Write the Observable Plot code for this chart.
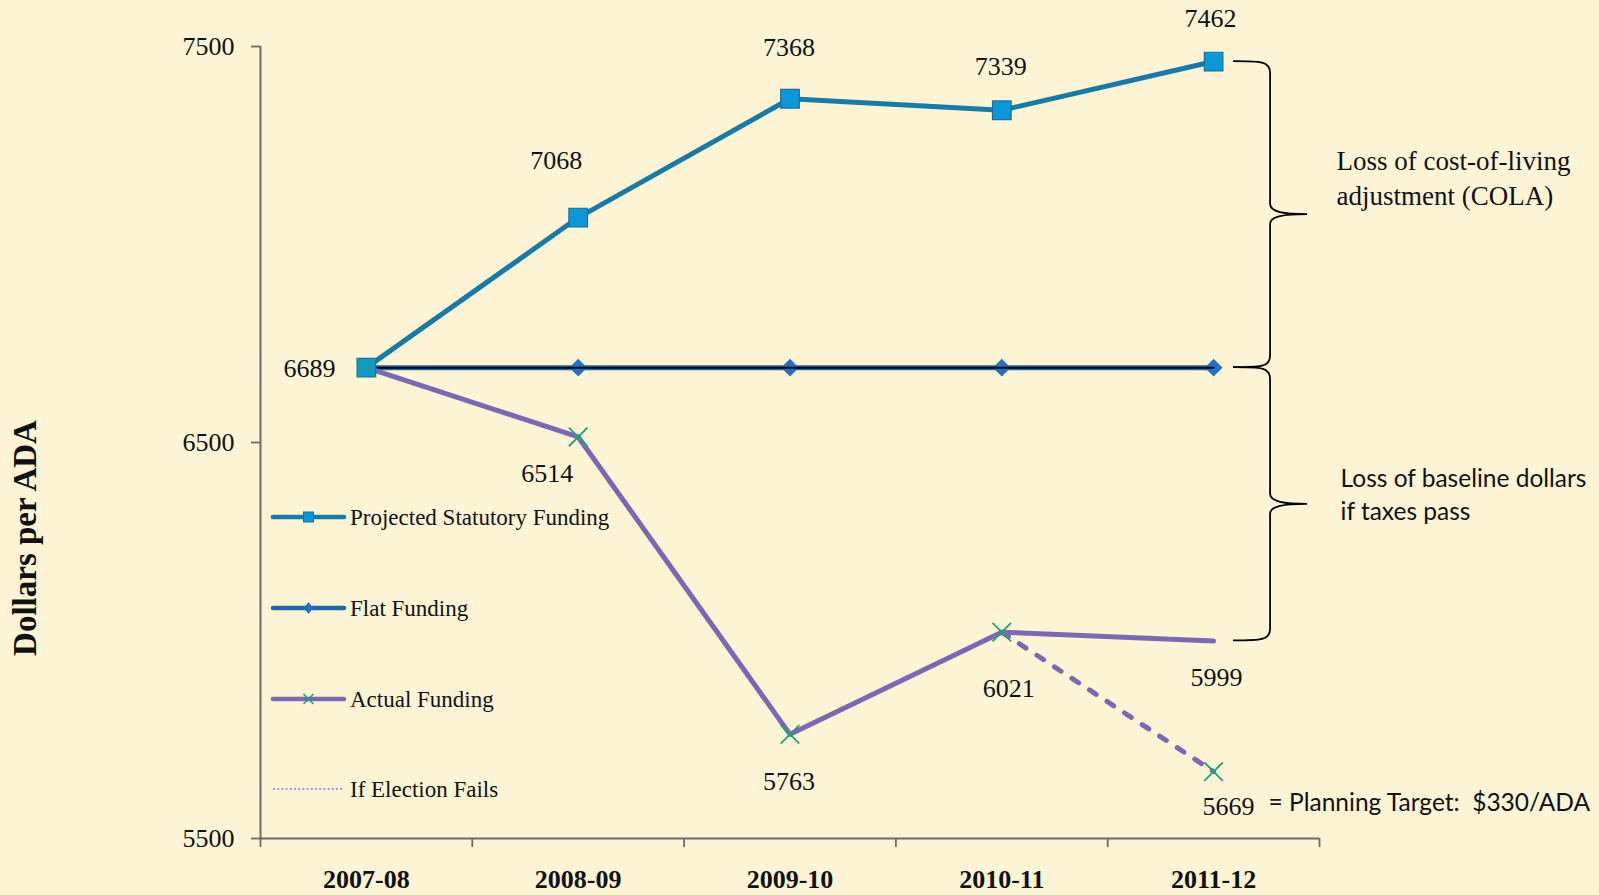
<!DOCTYPE html>
<html><head><meta charset="utf-8">
<script src="https://cdn.jsdelivr.net/npm/d3@7"></script>
<script src="https://cdn.jsdelivr.net/npm/@observablehq/plot@0.6"></script>
<style>
html,body{margin:0;padding:0;background:#fdf4d6;overflow:hidden}
#chart svg{display:block}
</style></head><body><div id="chart"></div>
<script>
// ---- data ----
const years = ["2007-08", "2008-09", "2009-10", "2010-11", "2011-12"];
const projected = [6689, 7068, 7368, 7339, 7462];
const flat = [6689, 6689, 6689, 6689, 6689];
const actual = [6689, 6514, 5763, 6021, 5999];
const failYears = ["2010-11", "2011-12"];
const failValues = [6021, 5669];
const yTicks = [5500, 6500, 7500];
const legendLabels = ["Projected Statutory Funding", "Flat Funding", "Actual Funding", "If Election Fails"];
const colaNote = "Loss of cost-of-living\nadjustment (COLA)";
const baselineNote = "Loss of baseline dollars\nif taxes pass";
const targetNote = "= Planning Target:\u00a0\u00a0$330/ADA";
const yTitle = "Dollars per ADA";

// ---- tables ----
const projRows = years.map((yr, i) => ({i, v: projected[i]}));
const flatRows = years.map((yr, i) => ({i, v: flat[i]}));
const actRows = years.map((yr, i) => ({i, v: actual[i]}));
const failRows = failYears.map((yr, k) => ({i: years.indexOf(yr), v: failValues[k]}));
const bounds = d3.range(years.length + 1).map(k => k - 0.5);

const SERIF = "'Liberation Serif','DejaVu Serif',serif";
const SANS = "Lato,'Open Sans','Liberation Sans',sans-serif";
const C = {
  proj: "#1a7aa6", projFill: "#0a98d8", projEdge: "#1b6f9a",
  flat: "#2466a8", flatFill: "#2172c4",
  act: "#7b68b3", x: "#22a07a", axis: "#6b6b6b"
};

function lbl(rows, k, dx, dy, anchor = "middle") {
  return Plot.text([rows[k]], {x: "i", y: "v", text: d => String(d.v), dx, dy,
    textAnchor: anchor, fontSize: 26, fontFamily: SERIF, fill: "#111"});
}

function braces(index, scales, values, dimensions) {
  const g = d3.create("svg:g");
  const last = years.length - 1;
  const xp = scales.x(last);
  const x0 = xp + 20, xs = xp + 57, xt = xp + 94;
  const pairs = [[projected[last], flat[last]], [flat[last], actual[last]]];
  for (const [a, b] of pairs) {
    const y0 = scales.y(a), y1 = scales.y(b), ym = (y0 + y1) / 2;
    const p = `M${x0},${y0} C${x0 + 28},${y0} ${xs},${y0} ${xs},${y0 + 12} L${xs},${ym - 10} C${xs},${ym - 2} ${xs + 14},${ym} ${xt},${ym} C${xs + 14},${ym} ${xs},${ym + 2} ${xs},${ym + 10} L${xs},${y1 - 12} C${xs},${y1} ${x0 + 28},${y1} ${x0},${y1}`;
    g.append("path").attr("d", p).attr("fill", "none").attr("stroke", "#000").attr("stroke-width", 1.8);
  }
  return g.node();
}

function legendAndTitle(index, scales, values, dimensions) {
  const g = d3.create("svg:g");
  const L = dimensions.marginLeft;
  const top = dimensions.marginTop;
  const x1 = L + 13, x2 = L + 84, xm = (x1 + x2) / 2, xtxt = L + 90;
  const rowsY = [471, 562, 653, 743].map(d => top + d);
  // row 0 projected
  g.append("line").attr("x1", x1).attr("x2", x2).attr("y1", rowsY[0]).attr("y2", rowsY[0])
    .attr("stroke", C.proj).attr("stroke-width", 4.5).attr("stroke-linecap", "round");
  g.append("rect").attr("x", xm - 5).attr("y", rowsY[0] - 5).attr("width", 10).attr("height", 10)
    .attr("fill", C.projFill).attr("stroke", C.projEdge).attr("stroke-width", 1);
  // row 1 flat
  g.append("line").attr("x1", x1).attr("x2", x2).attr("y1", rowsY[1]).attr("y2", rowsY[1])
    .attr("stroke", C.flat).attr("stroke-width", 4.5).attr("stroke-linecap", "round");
  g.append("path").attr("d", `M${xm},${rowsY[1] - 6} L${xm + 4.5},${rowsY[1]} L${xm},${rowsY[1] + 6} L${xm - 4.5},${rowsY[1]} Z`)
    .attr("fill", C.flatFill);
  // row 2 actual
  g.append("line").attr("x1", x1).attr("x2", x2).attr("y1", rowsY[2]).attr("y2", rowsY[2])
    .attr("stroke", C.act).attr("stroke-width", 4.5).attr("stroke-linecap", "round");
  g.append("path").attr("d", `M${xm - 5},${rowsY[2] - 5} L${xm + 5},${rowsY[2] + 5} M${xm + 5},${rowsY[2] - 5} L${xm - 5},${rowsY[2] + 5}`)
    .attr("stroke", C.x).attr("stroke-width", 1.6);
  // row 3 dotted
  g.append("line").attr("x1", x1).attr("x2", x2).attr("y1", rowsY[3]).attr("y2", rowsY[3])
    .attr("stroke", "#8a7fd0").attr("stroke-width", 1.6).attr("stroke-dasharray", "2,2.2");
  legendLabels.forEach((t, k) => {
    g.append("text").attr("x", xtxt).attr("y", rowsY[k]).attr("dy", "0.35em").attr("text-anchor", "start")
      .attr("font-family", SERIF).attr("font-size", 23).attr("fill", "#111").text(t);
  });
  g.append("text").attr("transform", `translate(36,538) rotate(-90)`)
    .attr("text-anchor", "middle").attr("font-family", SERIF).attr("font-weight", "bold")
    .attr("font-size", 33).attr("fill", "#111").text(yTitle);
  return g.node();
}

const last = years.length - 1;
const chart = Plot.plot({
  width: 1599, height: 895,
  marginLeft: 260, marginRight: 280, marginTop: 46, marginBottom: 57,
  style: {background: "#fdf4d6", fontFamily: SERIF, overflow: "visible"},
  x: {type: "linear", domain: [-0.5, years.length - 0.5]},
  y: {domain: [5500, 7500]},
  marks: [
    // axes
    Plot.axisY({ticks: yTicks, tickSize: 9, tickPadding: 17, tickFormat: d => String(d),
      fontSize: 26, stroke: C.axis, strokeWidth: 1.8, fill: "#111", label: null}),
    Plot.axisX({ticks: bounds, tickSize: 9, tickFormat: () => "", stroke: C.axis, strokeWidth: 1.8, label: null}),
    Plot.axisX({ticks: d3.range(years.length), tickSize: 0, tickPadding: 31, tickFormat: i => years[i],
      fontSize: 26, fontWeight: "bold", fill: "#111", label: null}),
    Plot.ruleX([-0.5], {stroke: C.axis, strokeWidth: 2}),
    Plot.ruleY([5500], {stroke: C.axis, strokeWidth: 2}),
    // flat funding
    Plot.line(flatRows, {x: "i", y: "v", stroke: C.flat, strokeWidth: 5}),
    Plot.dot(flatRows, {x: "i", y: "v", symbol: "diamond2", r: 8, fill: C.flatFill, stroke: "none"}),
    Plot.line(flatRows, {x: "i", y: "v", stroke: "#000", strokeWidth: 2}),
    // projected
    Plot.line(projRows, {x: "i", y: "v", stroke: C.proj, strokeWidth: 5}),
    // actual
    Plot.line(actRows, {x: "i", y: "v", stroke: C.act, strokeWidth: 5, strokeLinecap: "round"}),
    Plot.line(failRows, {x: "i", y: "v", stroke: C.act, strokeWidth: 5, strokeLinecap: "round", strokeDasharray: "8,13"}),
    Plot.dot(projRows, {x: "i", y: "v", symbol: "square", r: 10.5, fill: C.projFill, stroke: C.projEdge, strokeWidth: 1.2}),
    Plot.dot(actRows.filter(d => d.i < last), {x: "i", y: "v", symbol: "times", r: 8.5, stroke: C.x, strokeWidth: 1.8}),
    Plot.dot(failRows.slice(1), {x: "i", y: "v", symbol: "times", r: 8.5, stroke: C.x, strokeWidth: 1.8}),
    // value labels
    lbl(projRows, 0, -31, 1, "end"),
    lbl(projRows, 1, -22, -57),
    lbl(projRows, 2, -1, -51),
    lbl(projRows, 3, -1, -44),
    lbl(projRows, 4, -3, -43),
    lbl(actRows, 1, -31, 37),
    lbl(actRows, 2, -1, 47),
    lbl(actRows, 3, 7, 56),
    lbl(actRows, 4, 3, 37),
    lbl(failRows, 1, 15, 35),
    // annotations
    braces,
    Plot.text([{i: last, v: (projected[last] + flat[last]) / 2}], {x: "i", y: "v", text: () => colaNote,
      dx: 123, dy: -38, textAnchor: "start", lineHeight: 1.3, fontSize: 27, fontFamily: SERIF, fill: "#111"}),
    Plot.text([{i: last, v: (flat[last] + actual[last]) / 2}], {x: "i", y: "v", text: () => baselineNote,
      dx: 127, dy: -11, textAnchor: "start", lineHeight: 1.33, fontSize: 24.5, fontFamily: SANS, fill: "#111"}),
    Plot.text([failRows[1]], {x: "i", y: "v", text: () => targetNote,
      dx: 55, dy: 32, textAnchor: "start", fontSize: 24.5, fontFamily: SANS, fill: "#111"}),
    legendAndTitle
  ]
});
document.getElementById("chart").appendChild(chart);
</script></body></html>
